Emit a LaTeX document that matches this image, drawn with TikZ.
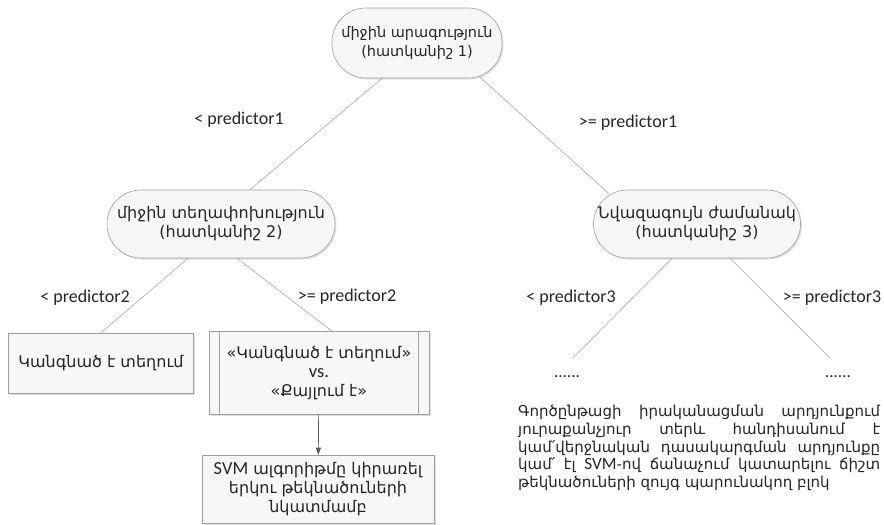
\documentclass[tikz,border=0pt]{standalone}
\usepackage{fontspec}
\setmainfont{Carlito}
\newfontfamily\arm{DejaVu Sans}
\newfontfamily\latinfont{Carlito}[Scale=1.15]
\usetikzlibrary{shadows,arrows.meta}

\newcommand{\latin}[1]{{\latinfont #1}}

\tikzset{
  decision/.style={rectangle, rounded corners=34pt, draw=gray!75, fill=gray!7, line width=0.6pt,
    drop shadow={opacity=0.25, shadow xshift=1.5pt, shadow yshift=-1.5pt},
    align=center, inner sep=0pt, text=black!85, font=\arm\fontsize{16}{19}\selectfont},
  leaf/.style={rectangle, draw=gray!75, fill=gray!6, line width=0.6pt,
    drop shadow={opacity=0.25, shadow xshift=1.5pt, shadow yshift=-1.5pt},
    align=center, inner sep=0pt, text=black!85, font=\arm\fontsize{16}{19}\selectfont},
  branch/.style={draw=gray!70, line width=0.6pt},
  cond/.style={font=\fontsize{18}{20}\selectfont, text=black!85},
  etc/.style={font=\fontsize{17}{18}\selectfont, text=black!85, inner sep=0pt}
}

\begin{document}
\begin{tikzpicture}[x=1pt,y=-1pt]
\useasboundingbox[fill=white] (0,0) rectangle (884,525);

% inner nodes
\node[decision, minimum width=170pt, minimum height=70pt, font=\arm\fontsize{14.5}{19}\selectfont] (root) at (417,43) {միջին արագություն\\(հատկանիշ 1)};
\node[decision, minimum width=228pt, minimum height=68pt] (left) at (221,224) {միջին տեղափոխություն\\(հատկանիշ 2)};
\node[decision, minimum width=207pt, minimum height=68pt] (right) at (697,224) {Նվազագույն ժամանակ\\(հատկանիշ 3)};

% leaves
\node[leaf, minimum width=185pt, minimum height=60pt] (stand) at (101,363) {Կանգնած է տեղում};
\node[leaf, minimum width=220pt, minimum height=83pt] (pair) at (319,373) {«Կանգնած է տեղում»\\\latin{vs.}\\«Քայլում է»};
\node[leaf, minimum width=232pt, minimum height=68pt] (svm) at (318,489) {\latin{SVM} ալգորիթմը կիրառել\\երկու թեկնածուների\\նկատմամբ};
\draw[gray!75, line width=0.6pt] ([xshift=11pt]pair.north west) -- ([xshift=11pt]pair.south west);
\draw[gray!75, line width=0.6pt] ([xshift=-11pt]pair.north east) -- ([xshift=-11pt]pair.south east);

\node[etc] (dotsL) at (567,377) {......};
\node[etc] (dotsR) at (838,377) {......};
\coordinate (endL) at (573,358);
\coordinate (endR) at (830,358);

% branches
\draw[branch] ([xshift=-35pt]root.south) -- ([xshift=29pt]left.north);
\draw[branch] ([xshift=62pt,yshift=2pt]root.south) -- ([xshift=-88pt,yshift=-4pt]right.north);
\draw[branch] ([xshift=-33pt]left.south) -- (stand.north);
\draw[branch] ([xshift=16pt]left.south) -- ([xshift=13pt]pair.north);
\draw[branch] ([xshift=-25pt]right.south) -- (endL);
\draw[branch] ([xshift=33pt]right.south) -- (endR);
\draw[black!65, line width=0.7pt, -{Triangle[length=7pt,width=5pt]}] (pair) -- (svm);

% conditions
\node[cond] (c1l) at (239,120) {< predictor1};
\node[cond] (c1r) at (628,123) {>= predictor1};
\node[cond] (c2l) at (85,298) {< predictor2};
\node[cond] (c2r) at (347,297) {>= predictor2};
\node[cond] (c3l) at (571,298) {< predictor3};
\node[cond] (c3r) at (832,298) {>= predictor3};

% note
\node[anchor=north west, inner sep=0pt, align=left, text=black!85,
  font=\arm\fontsize{15}{17.75}\selectfont] (note) at (518,405) {%
  \makebox[362pt][s]{Գործընթացի իրականացման արդյունքում}\\
  \makebox[362pt][s]{յուրաքանչյուր տերև հանդիսանում է}\\
  \makebox[362pt][s]{կամ՛վերջնական դասակարգման արդյունքը}\\
  \makebox[362pt][s]{կամ՛ էլ \latin{SVM}-ով ճանաչում կատարելու ճիշտ}\\
  թեկնածուների զույգ պարունակող բլոկ};
\end{tikzpicture}
\end{document}
